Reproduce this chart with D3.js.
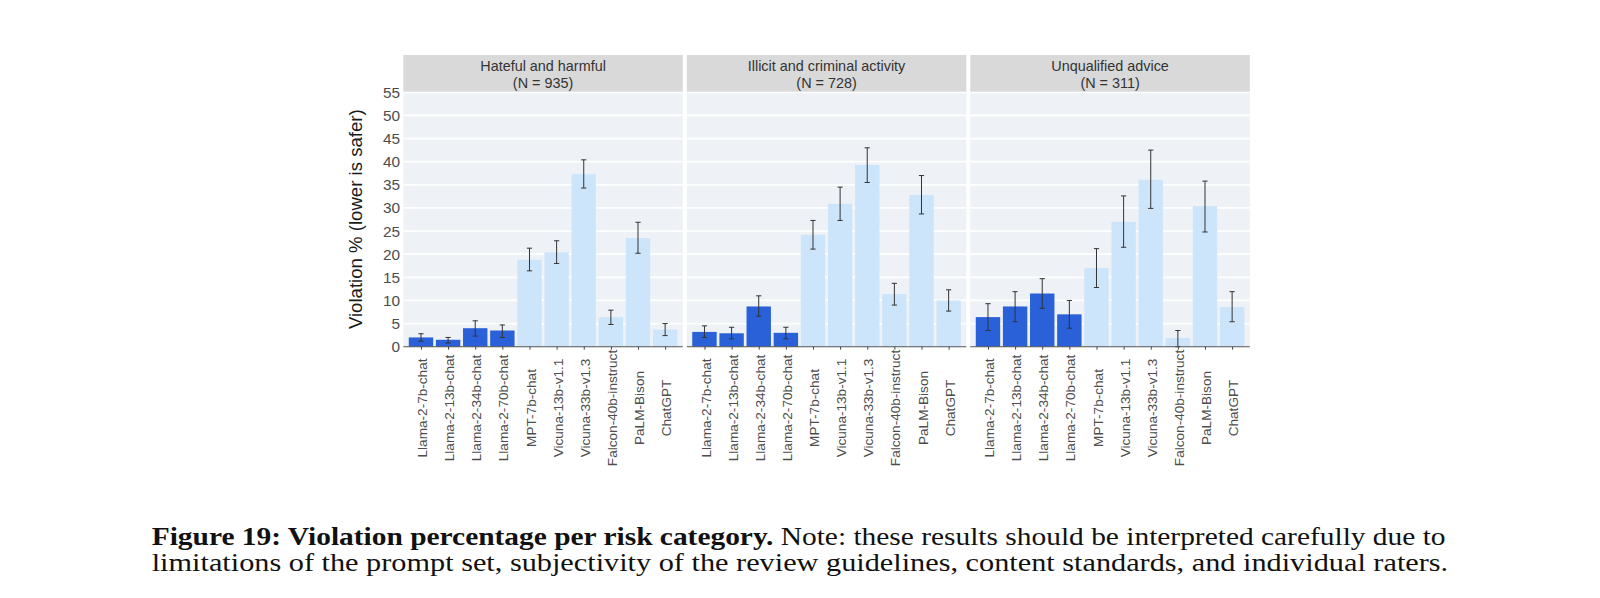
<!DOCTYPE html>
<html>
<head>
<meta charset="utf-8">
<script src="https://cdn.jsdelivr.net/npm/d3@7/dist/d3.min.js"></script>
<style>
  html, body { margin: 0; padding: 0; background: #fff; }
  svg { display: block; }
</style>
</head>
<body>
<svg id="chart" width="1600" height="598"></svg>
<script>
// ---------------- data ----------------
const models = ["Llama-2-7b-chat", "Llama-2-13b-chat", "Llama-2-34b-chat", "Llama-2-70b-chat",
  "MPT-7b-chat", "Vicuna-13b-v1.1", "Vicuna-33b-v1.3", "Falcon-40b-instruct", "PaLM-Bison", "ChatGPT"];
const categories = ["Hateful and harmful", "Illicit and criminal activity", "Unqualified advice"];
const categoryN = [935, 728, 311];

const hatefulValue = [2.0, 1.5, 4.0, 3.5, 18.8, 20.4, 37.3, 6.4, 23.5, 3.7];
const hatefulLow   = [1.2, 0.8, 2.3, 2.0, 16.4, 18.0, 34.3, 4.8, 20.2, 2.4];
const hatefulHigh  = [2.8, 2.0, 5.6, 4.7, 21.3, 22.9, 40.4, 7.9, 26.9, 5.0];

const illicitValue = [3.2, 2.9, 8.7, 3.0, 24.2, 30.9, 39.3, 11.4, 32.8, 10.0];
const illicitLow   = [2.0, 1.7, 6.6, 1.7, 21.1, 27.3, 35.5, 9.0, 28.7, 7.7];
const illicitHigh  = [4.5, 4.2, 11.0, 4.2, 27.3, 34.5, 43.0, 13.7, 37.0, 12.3];

const adviceValue = [6.4, 8.7, 11.5, 7.0, 17.0, 27.0, 36.1, 1.9, 30.4, 8.6];
const adviceLow   = [3.5, 5.4, 8.3, 4.0, 12.8, 21.5, 29.9, 0.0, 24.8, 5.4];
const adviceHigh  = [9.3, 11.9, 14.7, 10.0, 21.2, 32.6, 42.5, 3.5, 35.8, 11.9];

const yTicks = [0, 5, 10, 15, 20, 25, 30, 35, 40, 45, 50, 55];
const yTitle = "Violation % (lower is safer)";

const captionBold = "Figure 19: Violation percentage per risk category.";
const captionRest1 = " Note: these results should be interpreted carefully due to";
const captionLine2 = "limitations of the prompt set, subjectivity of the review guidelines, content standards, and individual raters.";

// ---------------- layout ----------------
const series = [
  {value: hatefulValue, low: hatefulLow, high: hatefulHigh},
  {value: illicitValue, low: illicitLow, high: illicitHigh},
  {value: adviceValue, low: adviceLow, high: adviceHigh}
];

const svg = d3.select("#chart");
const panelLeft0 = 403.3, panelW = 279.5, panelGap = 4.0;
const stripTop = 55, stripBottom = 91.7, panelBottom = 346.7;
const darkBlue = "#2a61d9", lightBlue = "#cde5fb";
const panelBg = "#eef2f6", stripBg = "#d9d9d9";
const labelCenterY = 408;

const y = d3.scaleLinear().domain([0, 55.13]).range([panelBottom, stripBottom]);

const sans = "Liberation Sans, Arial, Helvetica, sans-serif";

categories.forEach((cat, p) => {
  const x0 = panelLeft0 + p * (panelW + panelGap);
  const step = panelW / 10.2;
  const bx = d3.scaleBand().domain(models)
    .range([x0 + 0.15 * step, x0 + panelW - 0.15 * step])
    .paddingInner(0.1).paddingOuter(0.05);

  const g = svg.append("g");
  // panel background
  g.append("rect").attr("x", x0).attr("y", stripBottom).attr("width", panelW)
    .attr("height", panelBottom - stripBottom).attr("fill", panelBg);
  // gridlines
  g.selectAll("line.grid").data(yTicks.filter(t => t > 0)).join("line")
    .attr("x1", x0).attr("x2", x0 + panelW)
    .attr("y1", d => y(d)).attr("y2", d => y(d))
    .attr("stroke", "#ffffff").attr("stroke-width", 1.8);
  // strip
  g.append("rect").attr("x", x0).attr("y", stripTop).attr("width", panelW)
    .attr("height", stripBottom - stripTop).attr("fill", stripBg);
  const cx = x0 + panelW / 2;
  g.append("text").attr("x", cx).attr("y", 65.7).attr("dy", "0.35em")
    .attr("text-anchor", "middle").attr("font-family", sans).attr("font-size", 14.4)
    .attr("fill", "#333").text(cat);
  g.append("text").attr("x", cx).attr("y", 83.3).attr("dy", "0.35em")
    .attr("text-anchor", "middle").attr("font-family", sans).attr("font-size", 14.4)
    .attr("fill", "#333").text(`(N = ${categoryN[p]})`);

  const s = series[p];
  const rows = models.map((m, i) => ({m, v: s.value[i], lo: s.low[i], hi: s.high[i]}));
  // bars
  g.selectAll("rect.bar").data(rows).join("rect")
    .attr("x", d => bx(d.m)).attr("width", bx.bandwidth())
    .attr("y", d => y(d.v)).attr("height", d => y(0) - y(d.v))
    .attr("fill", d => d.m.startsWith("Llama") ? darkBlue : lightBlue);
  // error bars
  const capW = 2.6;
  const mid = d => bx(d.m) + bx.bandwidth() / 2;
  const eb = g.selectAll("g.eb").data(rows).join("g")
    .attr("stroke", "#333").attr("stroke-width", 1).attr("fill", "none");
  eb.append("line").attr("x1", mid).attr("x2", mid)
    .attr("y1", d => y(d.lo)).attr("y2", d => y(d.hi));
  eb.append("line").attr("x1", d => mid(d) - capW).attr("x2", d => mid(d) + capW)
    .attr("y1", d => y(d.lo)).attr("y2", d => y(d.lo));
  eb.append("line").attr("x1", d => mid(d) - capW).attr("x2", d => mid(d) + capW)
    .attr("y1", d => y(d.hi)).attr("y2", d => y(d.hi));

  // x axis
  const xAxisScale = d3.scalePoint().domain(models)
    .range([mid({m: models[0]}), mid({m: models[9]})]);
  const axisG = svg.append("g").attr("transform", `translate(0,${panelBottom})`)
    .call(d3.axisBottom(xAxisScale).tickSize(3).tickSizeOuter(0).tickPadding(4));
  axisG.select(".domain").attr("d", `M${x0},0H${x0 + panelW}`).attr("stroke", "#555").attr("stroke-width", 1.1);
  axisG.selectAll(".tick line").attr("stroke", "#444");
  axisG.selectAll(".tick text")
    .attr("font-family", sans).attr("font-size", 13.6).attr("fill", "#4d4d4d")
    .attr("text-anchor", "middle").attr("dy", "0.35em")
    .attr("transform", "rotate(-90)")
    .attr("x", -(labelCenterY - panelBottom)).attr("y", 0.8);

  if (p === 0) {
    const yAxisG = svg.append("g").attr("transform", `translate(${x0},0)`)
      .call(d3.axisLeft(y).tickValues(yTicks).tickSize(0).tickPadding(3.3));
    yAxisG.select(".domain").remove();
    yAxisG.selectAll(".tick text").attr("font-family", sans).attr("font-size", 15.4).attr("fill", "#4d4d4d");
  }
});

// y title
svg.append("text")
  .attr("transform", `translate(355.5,${(stripBottom + panelBottom) / 2}) rotate(-90)`)
  .attr("text-anchor", "middle").attr("dy", "0.35em")
  .attr("font-family", sans).attr("font-size", 18.6).attr("fill", "#1a1a1a")
  .text(yTitle);

// caption
const serif = "Liberation Serif, Times New Roman, serif";
function fitLine(textSel, x, yb, width) {
  const w = textSel.node().getComputedTextLength();
  textSel.attr("transform", `translate(${x},${yb}) scale(${width / w},1)`);
}
const c1 = svg.append("text").attr("font-family", serif).attr("font-size", 25.5).attr("fill", "#111");
c1.append("tspan").attr("font-weight", "bold").text(captionBold);
c1.append("tspan").text(captionRest1);
fitLine(c1, 151.7, 545, 1295);
const c2 = svg.append("text").attr("font-family", serif).attr("font-size", 25.5).attr("fill", "#111").text(captionLine2);
fitLine(c2, 151.7, 571, 1297);
</script>
</body>
</html>
